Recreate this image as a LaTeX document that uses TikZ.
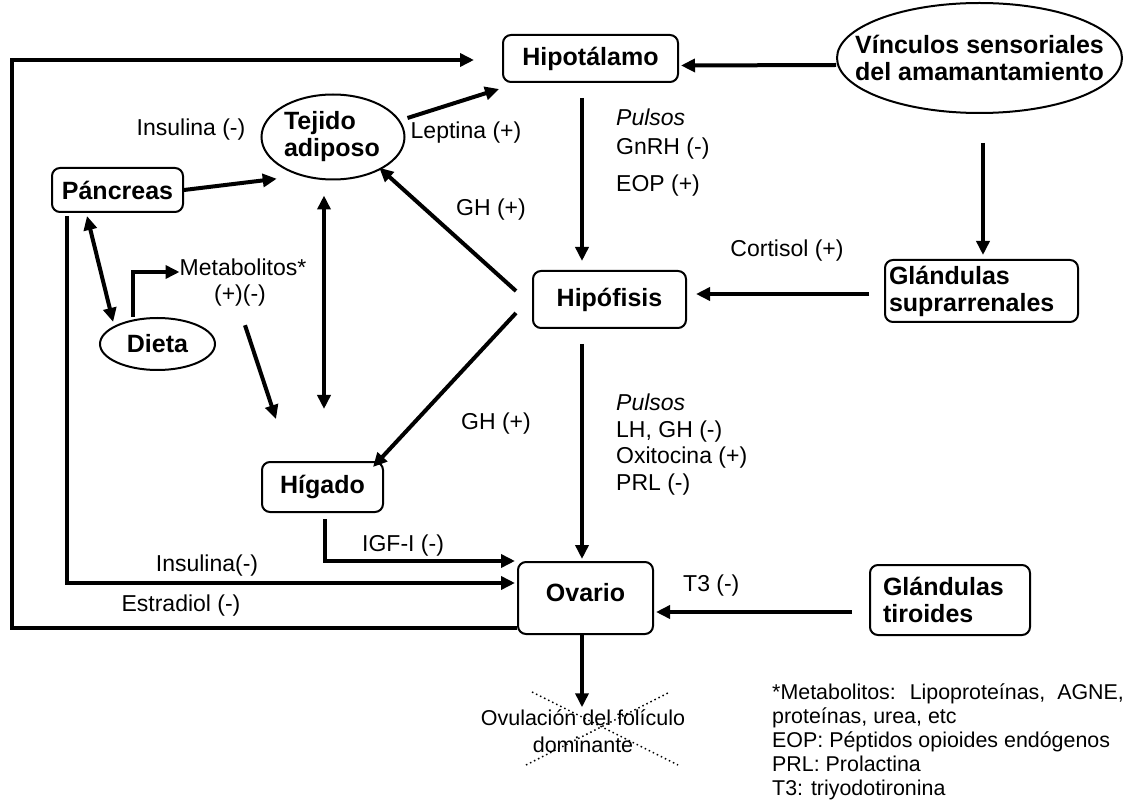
\documentclass[tikz,border=0pt]{standalone}
\usepackage{fontspec}
\setmainfont{Liberation Sans}
\usetikzlibrary{arrows.meta,shapes.geometric,calc}
\begin{document}
\begin{tikzpicture}[x=1pt,y=-1pt,
 box/.style={draw,line width=2pt,rounded corners=8pt,font=\fontsize{25}{27}\selectfont\bfseries,inner sep=0pt},
 oval/.style={draw,line width=2pt,ellipse,inner sep=0pt,font=\fontsize{25}{27}\selectfont\bfseries},
 lbl/.style={font=\fontsize{23}{26}\selectfont,inner sep=0pt,text height=17pt,text depth=5pt},
 leg/.style={font=\fontsize{21.4}{24}\selectfont,inner sep=0pt,anchor=base west},
 arr/.style={line width=4pt,-{Triangle[length=14pt,width=13pt]}},
 darr/.style={line width=4pt,{Triangle[length=14pt,width=13pt]}-{Triangle[length=14pt,width=13pt]}},
 xdot/.style={line width=1.5pt,dash pattern=on 1.5pt off 3pt},
]
\useasboundingbox (0,0) rectangle (1128,802);
% nodes
\node[box,minimum width=175pt,minimum height=47pt] (hypo) at (590.5,58.5) {Hipotálamo};
\node[oval,inner xsep=-60pt,inner ysep=-20pt,minimum width=285pt,minimum height=110pt,align=center] (vinc) at (979.5,58) {Vínculos sensoriales\\del amamantamiento};
\node[oval,minimum width=143pt,minimum height=85pt,text width=98pt,align=left] (tej) at (333,137) {Tejido\\adiposo};
\node[box,minimum width=131pt,minimum height=44pt] (panc) at (117.5,190) {Páncreas};
\node[oval,minimum width=115pt,minimum height=52pt] (dieta) at (157.5,344) {Dieta};
\node[box,minimum width=153pt,minimum height=57pt] (hipof) at (609.5,299.5) {Hipófisis};
\node[box,minimum width=193pt,minimum height=62pt,text width=185pt,align=left] (supra) at (981.5,291) {Glándulas\\suprarrenales};
\node[box,minimum width=121pt,minimum height=50pt] (hig) at (322.5,487) {Hígado};
\node[box,minimum width=135pt,minimum height=72pt,text depth=12pt] (ovario) at (585.5,598) {Ovario};
\node[box,minimum width=160pt,minimum height=70pt,text width=134pt,align=left] (tiro) at (950,600) {Glándulas\\tiroides};
\node[font=\fontsize{21.5}{27}\selectfont,inner sep=0pt,align=center] (ovul) at (583,731) {Ovulación del folículo\\dominante};
% legend
\node[leg] (leg1) at (772,699) {*Metabolitos:~ Lipoproteínas,~ AGNE,};
\node[leg] (leg2) at (772,723) {proteínas, urea, etc};
\node[leg] (leg3) at (772,747) {EOP: Péptidos opioides endógenos};
\node[leg] (leg4) at (772,771) {PRL: Prolactina};
\node[leg] (leg5) at (772,795) {T3: triyodotironina};
% labels
\node[lbl] (linsu) at (191,130) {Insulina (-)};
\node[lbl] (llep) at (466,133) {Leptina (+)};
\node[lbl] (lgh1) at (491,210) {GH (+)};
\node[lbl] (lmet) at (243,270) {Metabolitos*};
\node[lbl] (lmet2) at (240,296) {(+)(-)};
\node[lbl,anchor=west] (lpa1) at (616,120) {\itshape Pulsos};
\node[lbl,anchor=west] (lpa2) at (616,149) {GnRH (-)};
\node[lbl,anchor=west] (lpa3) at (616,186) {EOP (+)};
\node[lbl] (lcort) at (787,251) {Cortisol (+)};
\node[lbl] (lgh2) at (496,423) {GH (+)};
\node[lbl,anchor=west] (lpb1) at (616,405) {\itshape Pulsos};
\node[lbl,anchor=west] (lpb2) at (616,432) {LH, GH (-)};
\node[lbl,anchor=west] (lpb3) at (616,458) {Oxitocina (+)};
\node[lbl,anchor=west] (lpb4) at (616,484) {PRL (-)};
\node[lbl,anchor=west] (ligf) at (362,545) {IGF-I (-)};
\node[lbl] (linsu2) at (207,565) {Insulina(-)};
\node[lbl] (lestr) at (181,605) {Estradiol (-)};
\node[lbl,anchor=west] (lt3) at (683,585) {T3 (-)};
\coordinate (fbk) at (12,60);
% connectors
\draw[arr] ([shift={(0,7)}]vinc.west) -- ([shift={(2,7)}]hypo.east);
\draw[arr] ([shift={(-8.5,15)}]hypo.south) -- ([shift={(-27.5,-9)}]hipof.north);
\draw[arr] ([shift={(3.5,29)}]vinc.south) -- ([shift={(1.5,-4)}]supra.north);
\draw[arr] ([shift={(-15,3)}]supra.west) -- ([shift={(9,-5.5)}]hipof.east);
\draw[arr] ([shift={(-27.5,15)}]hipof.south) -- ([shift={(-3.5,-2)}]ovario.north);
\draw[arr] ([shift={(-3.5,0)}]ovario.south) -- ([shift={(-1,-2)}]ovul.north);
\draw[arr] ([shift={(-17,12)}]tiro.west) -- ([shift={(2,14)}]ovario.east);
\draw[arr] ([shift={(2,-19)}]tej.east) -- ([shift={(-3,6)}]hypo.south west);
\draw[arr] (panc.east) -- ([shift={(-5,11)}]tej.south west);
\draw[darr] ([shift={(36,3)}]panc.south west) -- ([shift={(-3,-3)}]dieta.north west);
\draw[arr] ([shift={(-25,0)}]dieta.north) |- ([shift={(0,2)}]lmet.west);
\draw[arr] ([shift={(5,18)}]lmet2.south) -- ([shift={(15,-42)}]hig.north west);
\draw[darr] ([shift={(-9,15)}]tej.south) -- ([shift={(1.5,-52)}]hig.north);
\draw[arr] ([shift={(-16,-8.5)}]hipof.west) -- ([shift={(-5,0)}]tej.south east);
\draw[arr] ([shift={(-16,13.5)}]hipof.west) -- ([shift={(-11,6)}]hig.north east);
\draw[arr] ([shift={(2.5,6)}]hig.south) |- ([shift={(-2,0)}]ovario.north west);
\draw[arr] ([shift={(16,3)}]panc.south west) |- ([shift={(-2,-15)}]ovario.west);
\draw[arr] ([shift={(0,-7)}]ovario.south west) -| (fbk) -- ([shift={(-28,0)}]hypo.west |- fbk);
% cross
\draw[xdot] ([shift={(-51,-39)}]ovul.center) -- ([shift={(95,34)}]ovul.center);
\draw[xdot] ([shift={(-57,34)}]ovul.center) -- ([shift={(87,-39)}]ovul.center);
\end{tikzpicture}
\end{document}
